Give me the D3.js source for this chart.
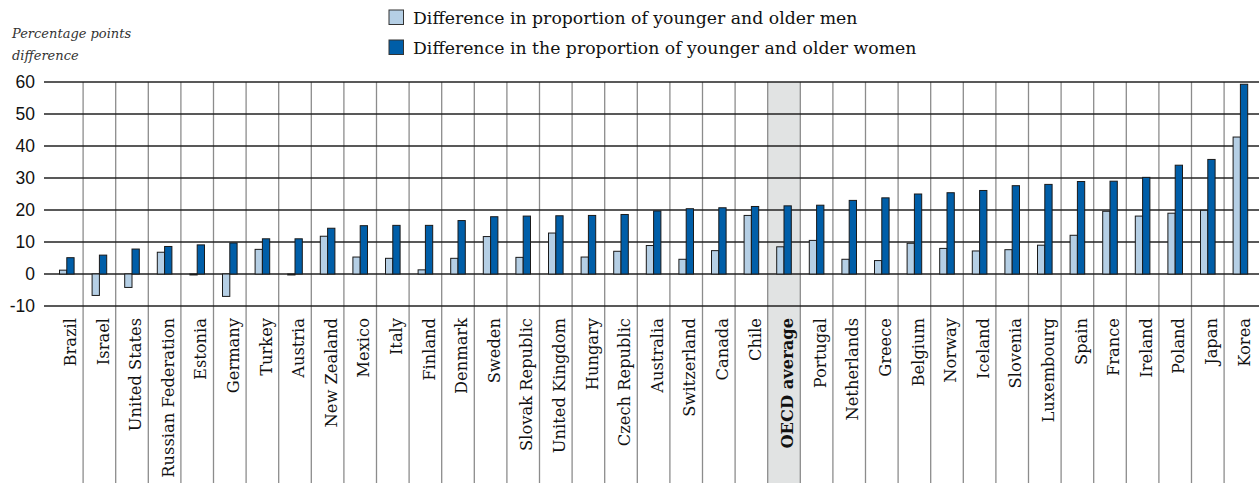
<!DOCTYPE html>
<html><head><meta charset="utf-8">
<script src="https://cdn.jsdelivr.net/npm/d3@7"></script>
<style>body{margin:0;background:#fff}svg{display:block}</style>
</head><body>
<svg id="c" width="1259" height="483"></svg>
<script>
const countries = ["Brazil","Israel","United States","Russian Federation","Estonia","Germany","Turkey","Austria","New Zealand","Mexico","Italy","Finland","Denmark","Sweden","Slovak Republic","United Kingdom","Hungary","Czech Republic","Australia","Switzerland","Canada","Chile","OECD average","Portugal","Netherlands","Greece","Belgium","Norway","Iceland","Slovenia","Luxembourg","Spain","France","Ireland","Poland","Japan","Korea"];
const men = [1.2,-6.7,-4.2,6.8,-0.3,-7.0,7.7,-0.3,11.8,5.3,4.9,1.3,4.9,11.7,5.2,12.8,5.3,7.1,8.9,4.6,7.3,18.3,8.5,10.5,4.6,4.2,9.6,8.0,7.2,7.6,9.0,12.1,19.6,18.1,19.0,19.9,42.8];
const women = [5.1,5.9,7.8,8.6,9.1,9.7,11.0,11.0,14.3,15.1,15.2,15.2,16.7,17.9,18.1,18.2,18.3,18.6,19.7,20.4,20.7,21.1,21.3,21.5,23.0,23.8,25.0,25.4,26.1,27.6,28.0,28.9,29.0,30.2,34.0,35.8,59.3];
const yTicks = [-10,0,10,20,30,40,50,60];
const seriesNames = ["Difference in proportion of younger and older men","Difference in the proportion of younger and older women"];
const colors = ["#b5cfe5","#005ea8"];

const svg = d3.select("#c");
const x = d3.scaleBand().domain(countries).range([50.5, 1256.7]).padding(0);
const y = d3.scaleLinear().domain([-10,60]).range([306,82]);
const pairW = 14.6;
const x1 = d3.scaleBand().domain([0,1]).range([0,pairW]);

// OECD shading
svg.append("rect").attr("x", x("OECD average")).attr("y", y(60)).attr("width", x.bandwidth()).attr("height", 483 - y(60)).attr("fill","#e1e3e3");

// vertical separators
svg.append("g").selectAll("line").data(countries.slice(1)).join("line")
  .attr("x1", d=>x(d)).attr("x2", d=>x(d)).attr("y1", y(60)).attr("y2", 483)
  .attr("stroke","#8c8c8c").attr("stroke-width",1.3);

// horizontal grid
svg.append("g").selectAll("line").data(yTicks).join("line")
  .attr("x1",44).attr("x2",1259).attr("y1",d=>y(d)).attr("y2",d=>y(d))
  .attr("stroke","#222").attr("stroke-width",1.5);

// y tick labels
svg.append("g").selectAll("text").data(yTicks).join("text")
  .attr("x",35).attr("y",d=>y(d)).attr("dy","0.36em").attr("text-anchor","end")
  .attr("font-family","Liberation Sans, Arial, sans-serif").attr("font-size",17.5).attr("fill","#111")
  .text(d=>d);

// bars
const data = countries.map((c,i)=>({c, v:[men[i],women[i]]}));
const g = svg.append("g").selectAll("g").data(data).join("g")
  .attr("transform", d=>`translate(${x(d.c) + (x.bandwidth()-pairW)/2},0)`);
g.selectAll("rect").data(d=>d.v.map((v,k)=>({v,k}))).join("rect")
  .attr("x", d=>x1(d.k)).attr("width", x1.bandwidth())
  .attr("y", d=>y(Math.max(0,d.v))).attr("height", d=>Math.abs(y(d.v)-y(0)))
  .attr("fill", d=>colors[d.k]).attr("stroke","#1a1a1a").attr("stroke-width",1);

// category labels
svg.append("g").selectAll("text").data(countries).join("text")
  .attr("transform", d=>`translate(${x(d)+x.bandwidth()/2+3.5},318) rotate(-90)`)
  .attr("dy","0.35em").attr("text-anchor","end")
  .attr("font-family","DejaVu Serif, serif").attr("font-size",16.3)
  .attr("font-weight", d=>d==="OECD average"?"bold":"normal").attr("fill","#111")
  .text(d=>d);

// axis title
svg.append("text").attr("x",12).attr("y",38).attr("font-family","DejaVu Serif, serif").attr("font-style","italic").attr("font-size",13).attr("fill","#333").text("Percentage points");
svg.append("text").attr("x",12).attr("y",60).attr("font-family","DejaVu Serif, serif").attr("font-style","italic").attr("font-size",13).attr("fill","#333").text("difference");

// legend
const lg = svg.append("g").selectAll("g").data(seriesNames).join("g")
  .attr("transform",(d,i)=>`translate(389,${10+i*30})`);
lg.append("rect").attr("width",14.5).attr("height",14.5).attr("fill",(d,i)=>colors[i]).attr("stroke","#333").attr("stroke-width",1);
lg.append("text").attr("x",24).attr("y",13.5).attr("font-family","DejaVu Serif, serif").attr("font-size",17.3).attr("fill","#111").text(d=>d);
</script>
</body></html>
